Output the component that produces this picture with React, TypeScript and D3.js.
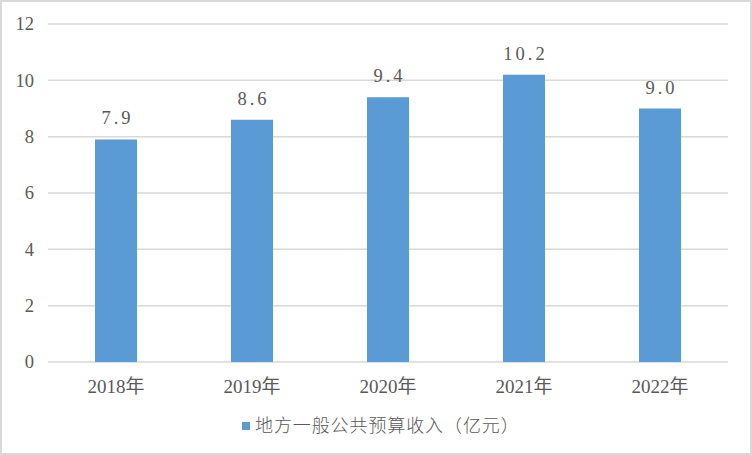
import React from "react";
import * as d3 from "d3";

const categories: string[] = ["2018年", "2019年", "2020年", "2021年", "2022年"];
const values: number[] = [7.9, 8.6, 9.4, 10.2, 9.0];
const yTicks: number[] = [0, 2, 4, 6, 8, 10, 12];
const seriesName = "地方一般公共预算收入（亿元）";

const W = 752;
const H = 455;
const plot = { left: 48, right: 728, top: 24, bottom: 362 };
const barColor = "#5B9BD5";
const gridColor = "#D9D9D9";
const textColor = "#595959";
const latinFont = "'Liberation Serif', 'Times New Roman', serif";
const cjkFont = "'Liberation Serif', 'Noto Sans CJK SC', serif";

export default function App() {
  const x = d3
    .scaleBand<string>()
    .domain(categories)
    .range([plot.left, plot.right])
    .paddingInner(0.691)
    .paddingOuter(0.3455);
  const y = d3.scaleLinear().domain([0, 12]).range([plot.bottom, plot.top]);

  return (
    <svg
      width={W}
      height={H}
      style={{ position: "absolute", left: 0, top: 0, background: "#fff" }}
    >
      <rect x={0} y={0} width={W} height={H} fill="#fff" />
      <rect
        x={1}
        y={1}
        width={750}
        height={453}
        fill="none"
        stroke={gridColor}
        strokeWidth={2}
      />
      {yTicks.map((t) => (
        <g key={t}>
          <line
            x1={plot.left}
            x2={plot.right}
            y1={y(t)}
            y2={y(t)}
            stroke={gridColor}
            strokeWidth={1.5}
          />
          <text
            x={34}
            y={y(t)}
            dy="0.35em"
            textAnchor="end"
            fontFamily={latinFont}
            fontSize={18.5}
            fill={textColor}
          >
            {t}
          </text>
        </g>
      ))}
      {categories.map((c, i) => {
        const bx = x(c) as number;
        const bw = x.bandwidth();
        const v = values[i];
        return (
          <g key={c}>
            <rect
              x={bx}
              y={y(v)}
              width={bw}
              height={y(0) - y(v)}
              fill={barColor}
            />
            <text
              x={bx + bw / 2 + 1.5}
              y={y(v) - 15}
              textAnchor="middle"
              fontFamily={latinFont}
              fontSize={18.5}
              letterSpacing={3}
              fill={textColor}
            >
              {v.toFixed(1)}
            </text>
            <text
              x={bx + bw / 2}
              y={393}
              textAnchor="middle"
              fontFamily={cjkFont}
              fontSize={19}
              fill={textColor}
            >
              {c}
            </text>
          </g>
        );
      })}
      <rect x={242} y={422} width={8} height={8} fill={barColor} />
      <text
        x={255}
        y={426}
        dy="0.35em"
        fontFamily="'Noto Sans CJK SC', sans-serif"
        fontSize={18}
        fontWeight={300}
        letterSpacing={0.9}
        fill={textColor}
      >
        {seriesName}
      </text>
    </svg>
  );
}
